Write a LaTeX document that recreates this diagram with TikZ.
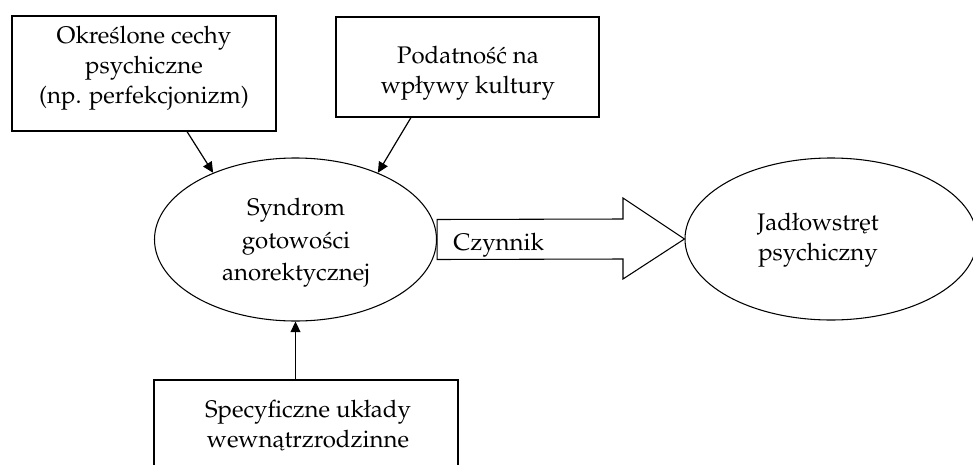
\documentclass[tikz,border=0pt]{standalone}
\usepackage[T1]{fontenc}
\usepackage{mathpazo}
\usetikzlibrary{arrows.meta,calc,shapes.geometric}
\begin{document}
\begin{tikzpicture}[x=0.75pt,y=-0.75pt,
  box/.style={draw,line width=0.8pt,inner sep=0pt},
  oval/.style={draw,ellipse,line width=0.8pt,inner sep=0pt},
  txt/.style={align=center,font=\fontsize{18}{22.5}\selectfont,inner sep=0pt},
  conn/.style={line width=0.9pt,-{Triangle[length=8pt,width=7.5pt]}}]
\useasboundingbox (0,0) rectangle (973,464);
% shapes
\node[box,minimum width=198pt,minimum height=86.25pt] (b1) at (144,73.5) {};
\node[box,minimum width=197.25pt,minimum height=75pt] (b2) at (467.5,67) {};
\node[box,minimum width=228pt,minimum height=67.5pt] (b3) at (306,425) {};
\node[oval,minimum width=211.5pt,minimum height=122.25pt] (e1) at (295.5,239.5) {};
\node[oval,minimum width=219pt,minimum height=121.5pt] (e2) at (831,239) {};
% texts
\node[txt] (t1) at (144,68) {Okre\'slone cechy\\psychiczne\\(np. perfekcjonizm)};
\node[txt] (t2) at (468,73) {Podatno\'s\'c na\\wp\l ywy kultury};
\node[txt,font=\fontsize{18}{24.4}\selectfont] (t3) at (296,243) {Syndrom\\gotowo\'sci\\anorektycznej};
\node[txt] (t4) at (818,240) {Jad\l owstr\k{e}t\\psychiczny};
\node[txt] (t5) at (308,426) {Specyficzne uk\l ady\\wewn\k{a}trzrodzinne};
% block arrow
\coordinate (hb) at (623,239);
\draw[line width=0.8pt] ($(e1.east)+(0,-20)$) -- ($(hb)+(0,-20)$) -- ($(hb)+(0,-41)$) -- (e2.west)
  -- ($(hb)+(0,40)$) -- ($(hb)+(0,20)$) -- ($(e1.east)+(0,20)$) -- cycle;
\node[font=\fontsize{18}{22.5}\selectfont,anchor=base west,inner sep=0pt] (cz) at (453,250) {Czynnik};
% connectors
\draw[conn] ($(b1.south)+(43,0)$) -- (e1.141);
\draw[conn] ($(b2.south)+(-56.5,0)$) -- (e1.39);
\draw[conn] (e1.south |- b3.north) -- (e1.south);
\end{tikzpicture}
\end{document}
